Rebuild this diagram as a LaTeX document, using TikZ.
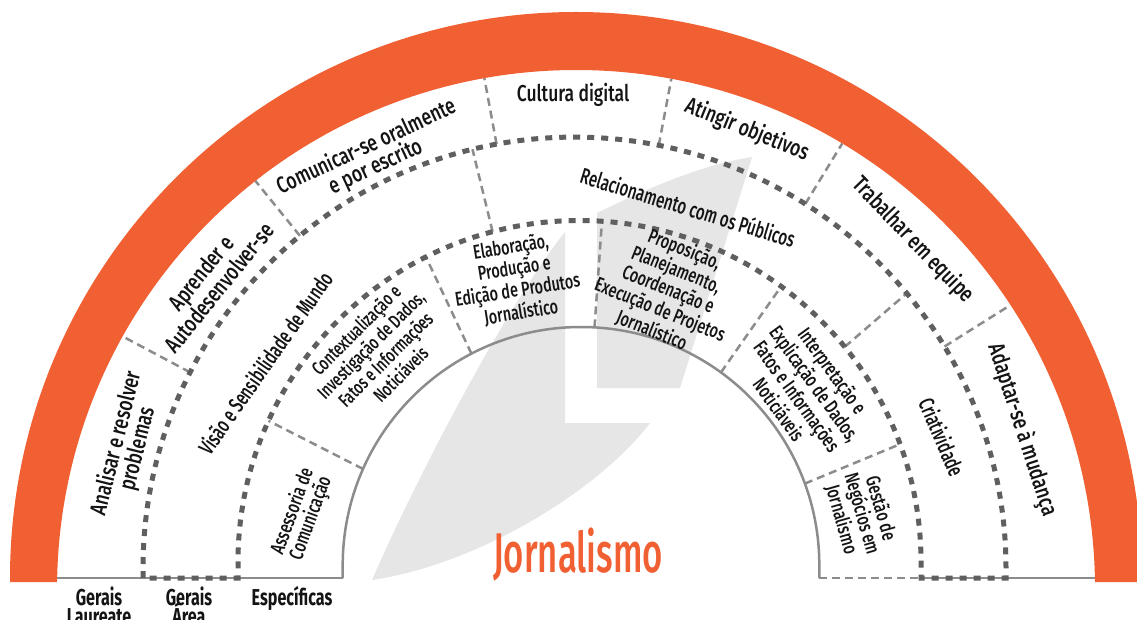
\documentclass[tikz,border=0pt]{standalone}
\usepackage{fontspec}
\setmainfont{Fira Sans}[UprightFont={* Medium}, BoldFont={* Bold}]
\usetikzlibrary{intersections}
\definecolor{orng}{RGB}{241,96,50}
\definecolor{ringgray}{RGB}{95,95,95}
\definecolor{sepgray}{RGB}{140,140,140}
\definecolor{linegray}{RGB}{140,140,140}
\definecolor{leafgray}{RGB}{230,230,230}
\definecolor{txt}{RGB}{20,20,20}
\newcommand\sepline[3]{%
  \path[name path=ray] (577,41) -- ++(#1:700);
  \path[name intersections={of=ray and #2, by=pa}];
  \path[name intersections={of=ray and #3, by=pb}];
  \draw[sep] (pa) -- (pb);
}
\begin{document}
\begin{tikzpicture}[x=1pt,y=1pt,
  ring/.style={draw=ringgray, line width=5pt, dash pattern=on 7pt off 7pt},
  sep/.style={draw=sepgray, line width=2.5pt, dash pattern=on 8pt off 5pt},
  solidl/.style={draw=linegray, line width=2.5pt},
  lbl/.style={rotate=#1, xscale=0.76, align=center, text=txt, font=\fontsize{23}{22}\selectfont, inner sep=0pt},
  lbl/.default=0,
  mid/.style={rotate=#1, xscale=0.68, align=center, text=txt, font=\fontsize{22}{22}\selectfont, inner sep=0pt},
  sml/.style={rotate=#1, xscale=0.72, align=center, text=txt, font=\fontsize{20}{19.5}\selectfont, inner sep=0pt},
  bot/.style={xscale=0.7, text=txt, font=\bfseries\fontsize{23}{20}\selectfont, inner sep=0pt, anchor=base}]
\useasboundingbox (0,0) rectangle (1137,619);
\clip (0,0) rectangle (1137,619);
\fill[white] (0,0) rectangle (1137,619);
% background leaf
\fill[leafgray] (565,387) -- (565,196) -- (650,196)
  .. controls (600,130) and (480,55) .. (372,39)
  .. controls (420,149) and (509,317) .. cycle;
\fill[leafgray] (597,231) -- (597,406) .. controls (650,432) and (705,455) .. (752,462)
  -- (680,231) -- cycle;
% invisible paths
\path[name path=orangeIn] (57.1,41) arc[start angle=178.786, end angle=1.214, radius=519];
\path[name path=ringA] (143,41) -- (143,50.4) arc[start angle=180, end angle=0, radius=431.5] -- (1006,41);
\path[name path=ringB] (238,41) -- (238,57) arc[start angle=180, end angle=0, radius=341.5] -- (921,41);
\path[name path=innerc] (342.7,41) -- (342.7,53.7) arc[start angle=180, end angle=0, radius=238.3] -- (819.3,41);
% separators
\foreach \a in {152,129,100.5,79.3,58.6,32.2} {\sepline{\a}{ringA}{orangeIn}}
\foreach \a in {103.7,40.8} {\sepline{\a}{ringB}{ringA}}
\foreach \a in {153,115.2,86,55,22.5} {\sepline{\a}{innerc}{ringB}}
% orange band
\fill[orng] (10,37) -- (10,41) arc[start angle=180, end angle=0, radius=566]
  -- (1142,37) -- (1094.9,37) -- (1094.9,41)
  arc[start angle=1.214, end angle=178.786, radius=519] -- (57.1,37) -- cycle;
% inner circle and base
\draw[solidl] (342.7,41) -- (342.7,53.7) arc[start angle=180, end angle=0, radius=238.3] -- (819.3,41);
\draw[solidl] (57,41) -- (342.7,41);
\draw[solidl] (921,41) -- (1095,41);
\draw[sep] (819.3,41) -- (921,41);
% dotted band
\draw[ring] (143,41) -- (143,50.4) arc[start angle=180, end angle=0, radius=431.5] -- (1006,41)
  -- (921,41) -- (921,57) arc[start angle=0, end angle=180, radius=341.5] -- (238,41) -- cycle;
% texts
\node[lbl=76] (t1) at (127,173) {Analisar e resolver\\problemas};
\node[lbl=51] (t2) at (210,339) {Aprender e\\Autodesenvolver-se};
\node[lbl=25] (t3) at (371,462) {Comunicar-se oralmente\\e por escrito};
\node[lbl] (t4) at (573,524) {Cultura digital};
\node[lbl=-22] (t5) at (747,489) {Atingir objetivos};
\node[lbl=-46] (t6) at (913,379) {Trabalhar em equipe};
\node[lbl=-72] (t7) at (1022,189) {Adaptar-se à mudança};
\node[mid=55] (t8) at (265,256) {Visão e Sensibilidade de Mundo};
\node[mid=-17] (t9) at (688,412) {Relacionamento com os Públicos};
\node[mid=-67] (t10) at (942,182) {Criatividade};
\node[sml=70] (t11) at (302,104) {Assessoria de\\Comunicação};
\node[sml=45, font=\fontsize{19}{18.5}\selectfont] (t12) at (378,267) {Contextualização e\\Investigação de Dados,\\Fatos e Informações\\Noticiáveis};
\node[sml=9] (t13) at (516,339) {Elaboração,\\Produção e\\Edição de Produtos\\Jornalístico};
\node[sml=-22] (t14) at (668,329) {Proposição,\\Planejamento,\\Coordenação e\\Execução de Projetos\\Jornalístico};
\node[sml=-54] (t15) at (806,229) {Interpretação e\\Explicação de Dados,\\Fatos e Informações\\Noticiáveis};
\node[sml=-74] (t16) at (861,105) {Gestão de\\Negócios em\\Jornalismo};
% bottom labels
\node[bot] (g1) at (99,14) {Gerais};
\node[bot] (g1b) at (99,-5) {Laureate};
\node[bot] (g2) at (189,14) {Gerais};
\node[bot] (g2b) at (189,-5) {Área};
\node[bot] (g3) at (292,14) {Específicas};
\node[xscale=0.62, text=orng, font=\fontsize{56}{56}\selectfont, anchor=base, inner sep=0pt] (jor) at (578,47) {Jornalismo};
\end{tikzpicture}
\end{document}
